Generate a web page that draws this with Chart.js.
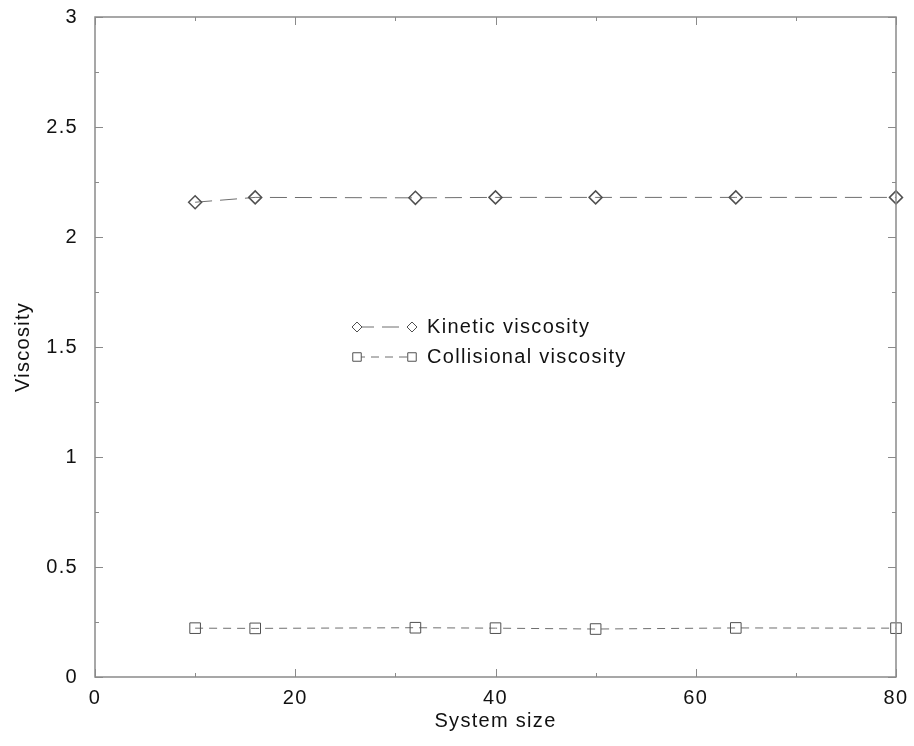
<!DOCTYPE html>
<html>
<head>
<meta charset="utf-8">
<script src="https://cdn.jsdelivr.net/npm/chart.js@4/dist/chart.umd.min.js"></script>
<style>
  html, body { margin: 0; padding: 0; background: #fff; }
  #wrap { width: 914px; height: 746px; }
</style>
</head>
<body>
<div id="wrap"><canvas id="chart" width="914" height="746"></canvas></div>
<script>
// values
const systemSize = [10, 16, 32, 40, 50, 64, 80];
const kinetic = [2.158, 2.18, 2.178, 2.18, 2.18, 2.18, 2.18];
const collisional = [0.222, 0.221, 0.224, 0.222, 0.218, 0.223, 0.222];
const xTicks = [0, 20, 40, 60, 80];
const yTicks = [0, 0.5, 1, 1.5, 2, 2.5, 3];
const seriesNames = ["Kinetic viscosity", "Collisional viscosity"];

const FONT = "Liberation Sans, Arial, sans-serif";
const SPACING = "1.3px";
const lineColor = "#6e6e6e";
const markColor = "#505050";

function toPoints(xs, ys) {
    return xs.map((x, i) => ({ x: x, y: ys[i] }));
}

// the old plot has wide letter spacing
const spacing = {
    id: "spacing",
    beforeDraw(chart) { chart.ctx.letterSpacing = SPACING; }
};

// inward ticks on all four sides plus the box frame
const frameTicks = {
    id: "frameTicks",
    afterDraw(chart) {
        const ctx = chart.ctx;
        const a = chart.chartArea;
        const xs = chart.scales.x, ys = chart.scales.y;
        ctx.save();
        ctx.strokeStyle = "#8a8a8a";
        ctx.lineWidth = 1.5;
        ctx.strokeRect(a.left, a.top, a.right - a.left, a.bottom - a.top);
        ctx.lineWidth = 1;
        for (let v = 0; v <= 80; v += 10) {
            const len = v % 20 === 0 ? 8 : 4;
            const px = Math.round(xs.getPixelForValue(v)) + 0.5;
            ctx.beginPath();
            ctx.moveTo(px, a.bottom); ctx.lineTo(px, a.bottom - len);
            ctx.moveTo(px, a.top); ctx.lineTo(px, a.top + len);
            ctx.stroke();
        }
        for (let i = 0; i <= 12; i++) {
            const v = i * 0.25;
            const len = i % 2 === 0 ? 8 : 4;
            const py = Math.round(ys.getPixelForValue(v)) + 0.5;
            ctx.beginPath();
            ctx.moveTo(a.left, py); ctx.lineTo(a.left + len, py);
            ctx.moveTo(a.right, py); ctx.lineTo(a.right - len, py);
            ctx.stroke();
        }
        ctx.restore();
    }
};

// legend drawn inside the plot, like the original
const innerLegend = {
    id: "innerLegend",
    afterDatasetsDraw(chart) {
        const ctx = chart.ctx;
        const rows = [
            { y: 327, dash: [17, 8], style: "rectRot", r: 5 },
            { y: 357, dash: [8, 6], style: "rect", r: 6 }
        ];
        ctx.save();
        rows.forEach((row, i) => {
            ctx.strokeStyle = lineColor;
            ctx.lineWidth = 1;
            ctx.setLineDash(row.dash);
            ctx.beginPath();
            ctx.moveTo(357, row.y); ctx.lineTo(412, row.y);
            ctx.stroke();
            ctx.setLineDash([]);
            ctx.fillStyle = "#fff";
            ctx.strokeStyle = markColor;
            [357, 412].forEach(x => {
                Chart.helpers.drawPoint(ctx, { pointStyle: row.style, radius: row.r, borderWidth: 1 }, x, row.y);
            });
            ctx.fillStyle = "#111";
            ctx.font = "20px " + FONT;
            ctx.letterSpacing = SPACING;
            ctx.textBaseline = "middle";
            ctx.fillText(seriesNames[i], 427, row.y);
        });
        ctx.restore();
    }
};

const tickFont = { family: FONT, size: 20 };

new Chart(document.getElementById("chart").getContext("2d"), {
    type: "scatter",
    data: {
        datasets: [{
            label: seriesNames[0],
            data: toPoints(systemSize, kinetic),
            showLine: true,
            clip: false,
            borderColor: lineColor,
            borderWidth: 1,
            borderDash: [17, 8],
            pointStyle: "rectRot",
            pointRadius: 6.5,
            pointBackgroundColor: "rgba(255,255,255,0)",
            pointBorderColor: markColor,
            pointBorderWidth: 1.5
        }, {
            label: seriesNames[1],
            data: toPoints(systemSize, collisional),
            showLine: true,
            clip: false,
            borderColor: lineColor,
            borderWidth: 1,
            borderDash: [8, 6],
            pointStyle: "rect",
            pointRadius: 7.5,
            pointBackgroundColor: "rgba(255,255,255,0)",
            pointBorderColor: markColor,
            pointBorderWidth: 1
        }]
    },
    options: {
        responsive: false,
        animation: false,
        layout: { padding: { top: 17, right: 18, left: 0, bottom: 0 } },
        plugins: {
            legend: { display: false },
            tooltip: { enabled: false }
        },
        scales: {
            x: {
                type: "linear",
                min: 0, max: 80,
                afterBuildTicks: s => { s.ticks = xTicks.map(v => ({ value: v })); },
                afterFit: s => { s.height = 69; },
                grid: { display: false },
                border: { display: false },
                ticks: { color: "#111", font: tickFont, padding: 1, maxRotation: 0 },
                title: { display: true, text: "System size", color: "#111", font: tickFont, padding: { top: 0, bottom: 13 } }
            },
            y: {
                type: "linear",
                min: 0, max: 3,
                afterBuildTicks: s => { s.ticks = yTicks.map(v => ({ value: v })); },
                afterFit: s => { s.width = 95; s.paddingTop = 0; s.paddingBottom = 0; },
                grid: { display: false },
                border: { display: false },
                ticks: { color: "#111", font: tickFont, padding: 9, callback: v => String(v) },
                title: { display: true, text: "Viscosity", color: "#111", font: tickFont, padding: { top: 11, bottom: 0 } }
            }
        }
    },
    plugins: [spacing, frameTicks, innerLegend]
});
</script>
</body>
</html>
